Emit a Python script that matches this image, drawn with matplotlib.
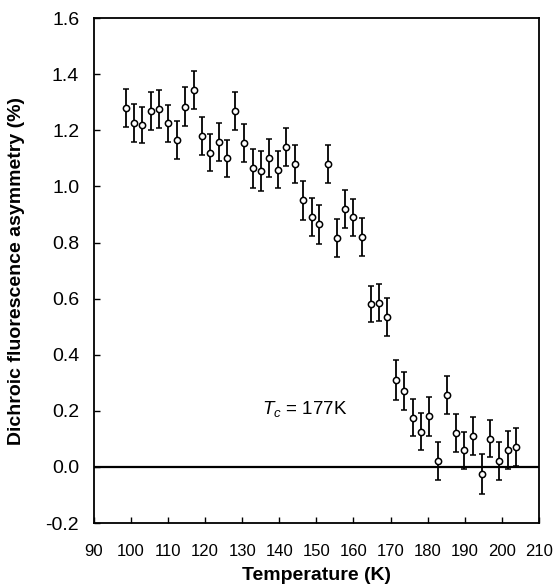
import numpy as np
import matplotlib.pyplot as plt

plt.rcParams['font.family'] = ['Liberation Sans', 'DejaVu Sans']
plt.rcParams['mathtext.fontset'] = 'custom'
plt.rcParams['mathtext.rm'] = 'Liberation Sans'
plt.rcParams['mathtext.it'] = 'Liberation Sans:italic'

# data
temperature = [98.6, 100.9, 103.0, 105.4, 107.6, 110.1, 112.3, 114.6, 116.9, 119.2,
               121.4, 123.7, 126.0, 128.1, 130.5, 132.8, 135.1, 137.3, 139.6, 141.9,
               144.2, 146.5, 148.7, 150.8, 153.2, 155.5, 157.8, 160.0, 162.4, 164.6,
               167.0, 169.1, 171.5, 173.7, 176.1, 178.3, 180.5, 182.9, 185.3, 187.6,
               189.9, 192.3, 194.6, 196.9, 199.3, 201.6, 203.9]
asymmetry = [1.28, 1.225, 1.22, 1.27, 1.275, 1.225, 1.165, 1.285, 1.345, 1.18,
             1.12, 1.16, 1.10, 1.27, 1.155, 1.065, 1.055, 1.10, 1.06, 1.14,
             1.08, 0.95, 0.89, 0.865, 1.08, 0.815, 0.92, 0.89, 0.82, 0.58,
             0.585, 0.535, 0.31, 0.27, 0.175, 0.125, 0.18, 0.02, 0.255, 0.12,
             0.06, 0.11, -0.025, 0.10, 0.02, 0.06, 0.07]
error = [0.067, 0.068, 0.065, 0.068, 0.068, 0.066, 0.067, 0.068, 0.068, 0.067,
         0.066, 0.068, 0.065, 0.068, 0.068, 0.069, 0.070, 0.068, 0.066, 0.068,
         0.067, 0.069, 0.068, 0.069, 0.069, 0.068, 0.068, 0.067, 0.068, 0.065,
         0.066, 0.068, 0.070, 0.068, 0.066, 0.066, 0.068, 0.068, 0.068, 0.068,
         0.066, 0.068, 0.070, 0.066, 0.068, 0.068, 0.068]

xticks = np.arange(90, 211, 10)
yticks = np.arange(-0.2, 1.61, 0.2)

fig = plt.figure(figsize=(5.55, 5.87), dpi=100)
ax = fig.add_axes([0.169, 0.109, 0.802, 0.860])

ax.axhline(0, color='black', lw=1.6, zorder=1)
ax.errorbar(temperature, asymmetry, yerr=error, fmt='o', ms=4.5, mfc='white',
            mec='black', mew=1.1, ecolor='black', elinewidth=1.3, capsize=2.5,
            capthick=1.3, zorder=2)

ax.text(135.3, 0.205, r'$T_c$ = 177K', fontsize=13.5, va='center', ha='left')

ax.set_xlim(90, 210)
ax.set_ylim(-0.2, 1.6)
ax.set_xticks(xticks)
ax.set_yticks(yticks)
ax.set_yticklabels(['%.1f' % v for v in yticks])
ax.tick_params(direction='in', length=4, width=1)
ax.tick_params(axis='x', pad=15, labelsize=12)
ax.tick_params(axis='y', pad=10.5, labelsize=14)
for s in ax.spines.values():
    s.set_linewidth(1.3)

ax.set_xlabel('Temperature (K)', fontsize=14, fontweight='bold')
ax.set_ylabel('Dichroic fluorescence asymmetry (%)', fontsize=14,
              fontweight='bold')
ax.xaxis.set_label_coords(0.5, -0.087)
ax.yaxis.set_label_coords(-0.155, 0.5)

fig.savefig('out.png', dpi=100)
